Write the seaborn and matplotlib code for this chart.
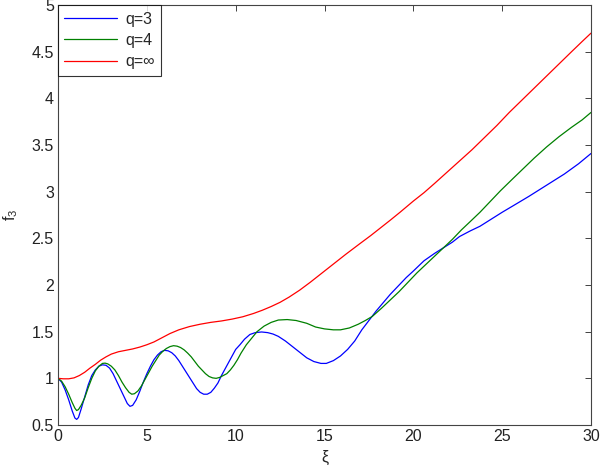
import pandas as pd
import matplotlib
matplotlib.use('Agg')
import matplotlib.pyplot as plt
import seaborn as sns

# dados (q=3)
xi_q3 = [0.0, 0.2, 0.4, 0.6, 0.8, 0.95, 1.05, 1.15, 1.3, 1.5, 1.7, 1.9, 2.1, 2.3, 2.5,
         2.7, 2.9, 3.1, 3.3, 3.5, 3.7, 3.9, 4.05, 4.2, 4.4, 4.6, 4.8, 5.0, 5.2, 5.4,
         5.6, 5.8, 6.0, 6.2, 6.4, 6.6, 6.8, 7.0, 7.2, 7.4, 7.6, 7.8, 8.0, 8.2, 8.4,
         8.6, 8.8, 9.0, 9.2, 9.4, 9.6, 9.8, 10.0, 10.24, 10.5, 10.8, 11.1, 11.46,
         11.8, 12.1, 12.4, 12.8, 13.2, 13.6, 14.0, 14.4, 14.8, 15.1, 15.5, 15.9,
         16.3, 16.7, 17.1, 17.5, 17.9, 18.3, 18.7, 19.2, 19.6, 20.0, 20.6, 21.2,
         21.7, 22.2, 22.6, 23.2, 23.75, 24.5, 25.0, 25.62, 26.5, 27.5, 28.5, 29.3, 30.0]
f3_q3 = [1.0, 0.96, 0.876, 0.77, 0.65, 0.575, 0.56, 0.58, 0.67, 0.80, 0.93, 1.03, 1.09,
         1.13, 1.145, 1.14, 1.11, 1.05, 0.97, 0.89, 0.81, 0.73, 0.70, 0.71, 0.77, 0.86,
         0.96, 1.05, 1.13, 1.20, 1.25, 1.285, 1.30, 1.295, 1.275, 1.24, 1.19, 1.13,
         1.07, 1.01, 0.95, 0.89, 0.85, 0.83, 0.83, 0.85, 0.895, 0.95, 1.03, 1.10,
         1.17, 1.24, 1.31, 1.36, 1.42, 1.47, 1.49, 1.497, 1.49, 1.475, 1.45, 1.40,
         1.34, 1.28, 1.22, 1.18, 1.16, 1.16, 1.19, 1.24, 1.31, 1.40, 1.52, 1.62,
         1.72, 1.81, 1.90, 2.00, 2.08, 2.15, 2.26, 2.34, 2.40, 2.46, 2.52, 2.58,
         2.63, 2.72, 2.78, 2.85, 2.95, 3.07, 3.19, 3.30, 3.41]

# q=4
xi_q4 = [0.0, 0.2, 0.4, 0.6, 0.8, 0.95, 1.05, 1.15, 1.3, 1.5, 1.7, 1.9, 2.1, 2.3, 2.5,
         2.65, 2.8, 3.0, 3.2, 3.4, 3.6, 3.8, 4.0, 4.15, 4.3, 4.5, 4.7, 4.9, 5.1, 5.3,
         5.5, 5.7, 5.9, 6.1, 6.3, 6.5, 6.7, 6.9, 7.1, 7.3, 7.5, 7.7, 7.9, 8.1, 8.3,
         8.5, 8.7, 8.9, 9.1, 9.3, 9.5, 9.7, 9.9, 10.1, 10.3, 10.6, 10.9, 11.2, 11.6,
         12.0, 12.4, 12.9, 13.4, 14.0, 14.5, 15.0, 15.5, 15.9, 16.4, 16.9, 17.3,
         17.7, 18.2, 18.7, 19.2, 19.7, 20.2, 20.7, 21.2, 21.7, 22.2, 22.7, 23.2,
         23.75, 24.3, 24.9, 25.6, 26.2, 26.8, 27.5, 28.2, 28.9, 29.5, 30.0]
f3_q4 = [1.0, 0.97, 0.91, 0.83, 0.74, 0.68, 0.655, 0.665, 0.71, 0.79, 0.90, 1.00, 1.08,
         1.13, 1.16, 1.163, 1.155, 1.13, 1.09, 1.03, 0.96, 0.90, 0.85, 0.83, 0.835,
         0.865, 0.92, 0.99, 1.06, 1.13, 1.19, 1.25, 1.29, 1.32, 1.34, 1.35, 1.345,
         1.33, 1.305, 1.27, 1.23, 1.18, 1.13, 1.09, 1.05, 1.02, 1.005, 1.00, 1.01,
         1.03, 1.05, 1.09, 1.14, 1.20, 1.27, 1.36, 1.43, 1.50, 1.56, 1.60, 1.625,
         1.63, 1.62, 1.59, 1.55, 1.53, 1.52, 1.52, 1.54, 1.58, 1.62, 1.665, 1.75,
         1.84, 1.93, 2.03, 2.13, 2.22, 2.31, 2.40, 2.49, 2.59, 2.68, 2.78, 2.89,
         3.01, 3.14, 3.25, 3.36, 3.48, 3.59, 3.69, 3.77, 3.85]

# q=infinito
xi_qinf = [0.0, 0.3, 0.6, 0.9, 1.2, 1.5, 1.8, 2.1, 2.4, 2.7, 3.0, 3.4, 3.8, 4.2, 4.6,
           5.0, 5.4, 5.8, 6.3, 6.8, 7.4, 8.0, 8.6, 9.2, 9.8, 10.4, 11.0, 11.5, 12.0,
           12.5, 13.0, 13.6, 14.2, 14.8, 15.5, 16.2, 17.0, 17.6, 18.1, 18.7, 19.25,
           20.0, 20.6, 21.2, 21.9, 22.6, 23.3, 24.0, 24.7, 25.4, 26.1, 26.8, 27.5,
           28.2, 28.9, 29.5, 30.0]
f3_qinf = [1.0, 0.995, 0.995, 1.005, 1.03, 1.065, 1.11, 1.15, 1.195, 1.23, 1.26, 1.285,
           1.30, 1.315, 1.335, 1.36, 1.39, 1.43, 1.48, 1.52, 1.555, 1.58, 1.60, 1.615,
           1.635, 1.66, 1.695, 1.73, 1.77, 1.815, 1.87, 1.945, 2.03, 2.12, 2.225, 2.33,
           2.445, 2.53, 2.605, 2.695, 2.78, 2.90, 2.99, 3.09, 3.21, 3.33, 3.45, 3.58,
           3.71, 3.85, 3.98, 4.11, 4.24, 4.37, 4.50, 4.61, 4.70]

rotulos = ['q=3', 'q=4', 'q=\u221e']
cores = ['#0000ff', '#008000', '#ff0000']

df = pd.concat([
    pd.DataFrame({'xi': xi_q3, 'f3': f3_q3, 'q': rotulos[0]}),
    pd.DataFrame({'xi': xi_q4, 'f3': f3_q4, 'q': rotulos[1]}),
    pd.DataFrame({'xi': xi_qinf, 'f3': f3_qinf, 'q': rotulos[2]}),
], ignore_index=True)

sns.set_theme(style='white')
plt.rcParams['font.family'] = ['Liberation Sans', 'DejaVu Sans']
plt.rcParams['mathtext.fontset'] = 'custom'
plt.rcParams['mathtext.rm'] = 'Liberation Sans'
plt.rcParams['mathtext.it'] = 'Liberation Sans'

fig = plt.figure(figsize=(6, 4.68), dpi=100)
ax = fig.add_axes([0.0967, 0.0919, 0.8883, 0.8971])

sns.lineplot(data=df, x='xi', y='f3', hue='q', palette=dict(zip(rotulos, cores)),
             hue_order=rotulos, linewidth=0.9, legend=False, ax=ax)

ax.set_xlim(0, 30)
ax.set_ylim(0.5, 5)
ax.set_xticks(range(0, 31, 5))
ax.set_yticks([0.5, 1, 1.5, 2, 2.5, 3, 3.5, 4, 4.5, 5])
ax.set_yticklabels(['0.5', '1', '1.5', '2', '2.5', '3', '3.5', '4', '4.5', '5'])
ax.tick_params(direction='in', length=4, width=0.6, top=True, right=True,
               labelsize=11.5, colors='#222222', pad=3)
for s in ax.spines.values():
    s.set_color('#444444')
    s.set_linewidth(0.8)

ax.set_xlabel('\u03be', fontsize=11.5, labelpad=4)
ax.set_ylabel('f$_3$', fontsize=11.5, labelpad=8)

leg = ax.legend(ax.lines, rotulos, loc='upper left', fontsize=11.5, frameon=True,
                fancybox=False, edgecolor='black', handlelength=3.3,
                borderaxespad=0.0, borderpad=0.4, labelspacing=0.4, handletextpad=0.5)
leg.get_frame().set_linewidth(0.8)

plt.savefig('out.png', dpi=100)
